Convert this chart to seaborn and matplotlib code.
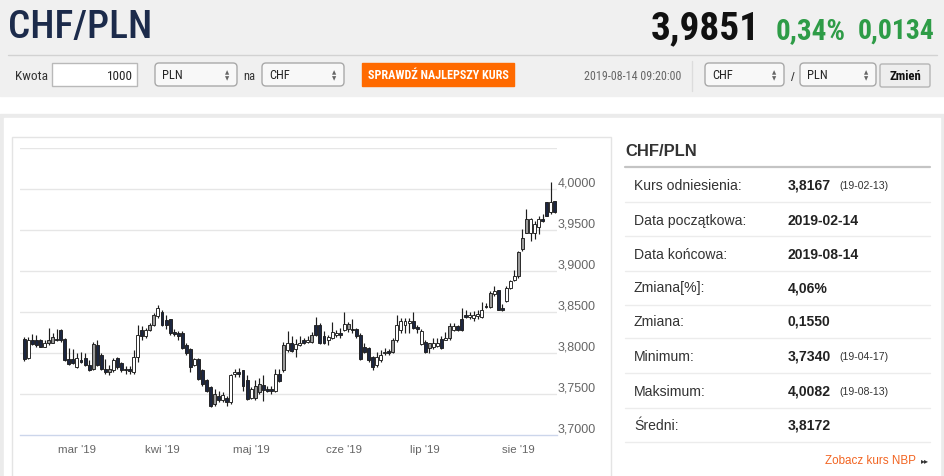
import numpy as np
import pandas as pd
import matplotlib
matplotlib.use("Agg")
import matplotlib.pyplot as plt
import matplotlib.transforms as mtransforms
from matplotlib.patches import Rectangle, FancyBboxPatch
from matplotlib import font_manager
import seaborn as sns

# ---------------- data ----------------
opens = [3.8169, 3.7934, 3.8161, 3.8153, 3.8153, 3.8079, 3.8120, 3.8128, 3.8174, 3.8277,
         3.8169, 3.7926, 3.7880, 3.7934, 3.7893, 3.7934, 3.7851, 3.7810, 3.8099, 3.7975,
         3.7810, 3.7769, 3.7789, 3.7831, 3.7880, 3.7806, 3.7806, 3.7769, 3.7955, 3.8285,
         3.8211, 3.8285, 3.8347, 3.8450, 3.8500, 3.8401, 3.8409, 3.8256, 3.8244, 3.8244,
         3.8099, 3.8045, 3.7851, 3.7921, 3.7789, 3.7665, 3.7591, 3.7376, 3.7479, 3.7426,
         3.7450, 3.7397, 3.7769, 3.7748, 3.7789, 3.7665, 3.7450, 3.7450, 3.7521, 3.7612,
         3.7562, 3.7558, 3.7541, 3.7748, 3.7789, 3.8037, 3.8120, 3.8045, 3.8128, 3.8128,
         3.8161, 3.8140, 3.8223, 3.8347, 3.8202, 3.8161, 3.8182, 3.8223, 3.8244, 3.8285,
         3.8293, 3.8293, 3.8293, 3.8223, 3.8079, 3.8058, 3.7955, 3.7851, 3.7913, 3.7996,
         3.8025, 3.8017, 3.8161, 3.8285, 3.8347, 3.8368, 3.8388, 3.8293, 3.8273, 3.8140,
         3.8058, 3.8079, 3.8087, 3.8174, 3.8161, 3.8182, 3.8326, 3.8285, 3.8285, 3.8467,
         3.8439, 3.8426, 3.8447, 3.8439, 3.8578, 3.8561, 3.8725, 3.8766, 3.8549, 3.8631,
         3.8794, 3.8896, 3.8945, 3.9264, 3.9468, 3.9632, 3.9468, 3.9542, 3.9640, 3.9673,
         3.9836, 3.9722]
highs = [3.8194, 3.8190, 3.8231, 3.8223, 3.8169, 3.8161, 3.8306, 3.8244, 3.8293, 3.8293,
         3.8182, 3.8058, 3.8045, 3.7996, 3.8017, 3.7996, 3.7913, 3.8140, 3.8153, 3.7996,
         3.7921, 3.7851, 3.7934, 3.7955, 3.7893, 3.7839, 3.7839, 3.8037, 3.8347, 3.8326,
         3.8306, 3.8368, 3.8492, 3.8583, 3.8525, 3.8459, 3.8417, 3.8293, 3.8264, 3.8264,
         3.8120, 3.8058, 3.7934, 3.7934, 3.7810, 3.7686, 3.7603, 3.7562, 3.7541, 3.7521,
         3.7479, 3.7748, 3.7810, 3.7822, 3.7798, 3.7727, 3.7583, 3.7665, 3.7698, 3.7727,
         3.7603, 3.7603, 3.7810, 3.7810, 3.8140, 3.8264, 3.8202, 3.8169, 3.8202, 3.8182,
         3.8202, 3.8252, 3.8442, 3.8368, 3.8264, 3.8223, 3.8376, 3.8285, 3.8306, 3.8500,
         3.8376, 3.8409, 3.8306, 3.8244, 3.8120, 3.8070, 3.7963, 3.8017, 3.8037, 3.8058,
         3.8045, 3.8182, 3.8459, 3.8430, 3.8430, 3.8430, 3.8500, 3.8347, 3.8293, 3.8161,
         3.8128, 3.8182, 3.8182, 3.8202, 3.8252, 3.8368, 3.8368, 3.8347, 3.8554, 3.8529,
         3.8496, 3.8508, 3.8529, 3.8619, 3.8610, 3.8753, 3.8815, 3.8774, 3.8600, 3.8815,
         3.8896, 3.9011, 3.9244, 3.9509, 3.9755, 3.9652, 3.9611, 3.9673, 3.9701, 3.9844,
         4.0082, 3.9857]
lows = [3.7905, 3.7926, 3.8099, 3.8079, 3.8070, 3.8070, 3.8099, 3.8120, 3.8149, 3.8140,
        3.7901, 3.7851, 3.7864, 3.7822, 3.7872, 3.7839, 3.7781, 3.7789, 3.7839, 3.7798,
        3.7748, 3.7727, 3.7769, 3.7810, 3.7769, 3.7748, 3.7748, 3.7748, 3.7893, 3.8161,
        3.8182, 3.8264, 3.8326, 3.8430, 3.8326, 3.8293, 3.8223, 3.8202, 3.8161, 3.8045,
        3.7975, 3.7769, 3.7839, 3.7665, 3.7603, 3.7521, 3.7340, 3.7355, 3.7397, 3.7397,
        3.7355, 3.7376, 3.7707, 3.7707, 3.7541, 3.7426, 3.7438, 3.7426, 3.7500, 3.7417,
        3.7521, 3.7500, 3.7521, 3.7645, 3.7769, 3.8017, 3.8017, 3.7955, 3.8087, 3.8112,
        3.8120, 3.8128, 3.8202, 3.8112, 3.8112, 3.8099, 3.8169, 3.8194, 3.8182, 3.8264,
        3.8252, 3.8244, 3.8182, 3.7913, 3.8004, 3.7893, 3.7789, 3.7831, 3.7893, 3.7975,
        3.7975, 3.7996, 3.8140, 3.8244, 3.8244, 3.8244, 3.8293, 3.8244, 3.8099, 3.7996,
        3.7996, 3.8045, 3.8070, 3.8045, 3.8153, 3.8161, 3.8264, 3.8264, 3.8264, 3.8426,
        3.8414, 3.8386, 3.8414, 3.8426, 3.8549, 3.8549, 3.8700, 3.8520, 3.8508, 3.8619,
        3.8782, 3.8876, 3.8917, 3.9244, 3.9460, 3.9366, 3.9395, 3.9448, 3.9599, 3.9665,
        3.9693, 3.9706]
closes = [3.7921, 3.8161, 3.8112, 3.8099, 3.8079, 3.8128, 3.8161, 3.8190, 3.8157, 3.8153,
          3.7913, 3.7864, 3.7921, 3.7831, 3.7913, 3.7851, 3.7789, 3.8112, 3.7851, 3.7810,
          3.7769, 3.7802, 3.7913, 3.7934, 3.7789, 3.7789, 3.7781, 3.7955, 3.8223, 3.8202,
          3.8285, 3.8347, 3.8459, 3.8554, 3.8347, 3.8347, 3.8244, 3.8231, 3.8202, 3.8058,
          3.7996, 3.7831, 3.7926, 3.7686, 3.7624, 3.7541, 3.7355, 3.7500, 3.7426, 3.7492,
          3.7397, 3.7727, 3.7748, 3.7769, 3.7603, 3.7438, 3.7562, 3.7603, 3.7616, 3.7550,
          3.7541, 3.7533, 3.7748, 3.7657, 3.8099, 3.8128, 3.8029, 3.8107, 3.8099, 3.8153,
          3.8140, 3.8223, 3.8347, 3.8120, 3.8128, 3.8194, 3.8252, 3.8244, 3.8215, 3.8355,
          3.8355, 3.8277, 3.8202, 3.7921, 3.8017, 3.7913, 3.7831, 3.7955, 3.7975, 3.8017,
          3.7996, 3.8161, 3.8347, 3.8388, 3.8388, 3.8388, 3.8306, 3.8318, 3.8112, 3.8017,
          3.8120, 3.8120, 3.8120, 3.8058, 3.8182, 3.8335, 3.8277, 3.8326, 3.8417, 3.8439,
          3.8467, 3.8467, 3.8480, 3.8520, 3.8561, 3.8733, 3.8753, 3.8529, 3.8520, 3.8794,
          3.8876, 3.8945, 3.9232, 3.9407, 3.9632, 3.9460, 3.9571, 3.9632, 3.9611, 3.9836,
          3.9714, 3.9849]
candle_kind = list("duddduggdd" "dddudddgdd" "dgudddduud" "uggudddddd"
                   "dduddddgdu" "duudddugg" "d" "ddudguduu" "d"
                   "ugddduuudu" "gdddddduuu" "dguuuuddud" "guuduguddd"
                   "uuuudgudduu" "uggguuuddu" "dg")
candle_kind = candle_kind[:len(opens)]
last_day = "2019-08-14"
month_labels = ["mar '19", "kwi '19", "maj '19", "cze '19", "lip '19", "sie '19"]
month_numbers = [3, 4, 5, 6, 7, 8]
y_values = [3.70, 3.75, 3.80, 3.85, 3.90, 3.95, 4.00]
y_labels = ["3,7000", "3,7500", "3,8000", "3,8500", "3,9000", "3,9500", "4,0000"]
grid_values = [3.75, 3.80, 3.85, 3.90, 3.95, 4.00, 4.05]

pair = "CHF/PLN"
price_now = "3,9851"
change_pct = "0,34%"
change_abs = "0,0134"
timestamp = "2019-08-14 09:20:00"
stat_labels = ["Kurs odniesienia:", "Data początkowa:", "Data końcowa:", "Zmiana[%]:",
               "Zmiana:", "Minimum:", "Maksimum:", "Średni:"]
stat_values = ["3,8167", "2019-02-14", "2019-08-14", "4,06%", "0,1550", "3,7340", "4,0082", "3,8172"]
stat_dates = ["(19-02-13)", "", "", "", "", "(19-04-17)", "(19-08-13)", ""]

# ---------------- style ----------------
sns.set_theme(style="white")
avail = {f.name for f in font_manager.fontManager.ttflist}
BASE = "Liberation Sans" if "Liberation Sans" in avail else "DejaVu Sans"
NARROW = None
for cand in ["Liberation Sans Narrow", "Roboto Condensed", "Open Sans Condensed",
             "Noto Sans Condensed", "DejaVu Sans Condensed"]:
    if cand in avail:
        NARROW = cand
        break
NARROW_STRETCH = "normal"
if NARROW is None:
    cond = [f for f in font_manager.fontManager.ttflist
            if f.name == "DejaVu Sans" and str(f.stretch) in ("condensed", "semi-condensed")]
    if cond:
        NARROW = "DejaVu Sans"
        NARROW_STRETCH = "condensed"
    else:
        NARROW = BASE
HAS_NARROW = NARROW != BASE
plt.rcParams['font.family'] = [BASE, 'DejaVu Sans']

W, H = 945, 477
fig = plt.figure(figsize=(W / 100, H / 100), dpi=100)
fig.patch.set_facecolor("white")

bg = fig.add_axes([0, 0, 1, 1], zorder=0)
bg.set_xlim(0, W)
bg.set_ylim(H, 0)
bg.axis("off")

def pt(px):
    return px * 0.72

renderer = fig.canvas.get_renderer()

def fit(t, w):
    bb = t.get_window_extent(renderer=renderer)
    if bb.width > 0:
        t.set_fontsize(t.get_fontsize() * w / bb.width)
    return t

def txt(x, y, s, size, w=None, **kw):
    kw.setdefault("va", "center")
    kw.setdefault("ha", "left")
    t = bg.text(x, y, s, fontsize=pt(size), **kw)
    if w is not None:
        fit(t, w)
    return t

nar = dict(family=[NARROW, BASE], fontstretch=NARROW_STRETCH)

# header band
bg.add_patch(Rectangle((0, 0), W, 97, color="#f0f0f0", zorder=0))
bg.plot([8, 937], [55.5, 55.5], color="#d2d2d2", lw=1, zorder=1)
txt(8, 28, pair, 40, w=144, color="#1c2b4b", fontweight="medium", **nar)
txt(651, 29, price_now, 36, w=109, color="#111111", fontweight="bold", **nar)
txt(776, 31, change_pct, 26, w=70, color="#2e9c47", fontweight="bold", **nar)
txt(858, 31, change_abs, 26, w=77, color="#2e9c47", fontweight="bold", **nar)

# controls row
txt(15, 76, "Kwota", 12, w=33, color="#333333", **nar)
bg.add_patch(Rectangle((52, 64), 85, 23, facecolor="white", edgecolor="#b9b9b9", lw=1, zorder=1))
txt(133, 76, "1000", 12.5, w=26, ha="right", color="#222222", **nar)

def select(x0, x1, label):
    bg.add_patch(FancyBboxPatch((x0, 64), x1 - x0, 23, boxstyle="round,pad=0,rounding_size=4",
                                facecolor="#f8f8f8", edgecolor="#a9a9a9", lw=1, zorder=1))
    txt(x0 + 7, 75.5, label, 12.5, color="#222222", **nar)
    bg.text(x1 - 10, 72.3, "▲", fontsize=4, color="#666666", ha="center", va="center",
            family=["DejaVu Sans"])
    bg.text(x1 - 10, 78.7, "▼", fontsize=4, color="#666666", ha="center", va="center",
            family=["DejaVu Sans"])

select(155, 237, "PLN")
txt(243, 76, "na", 12.5, color="#333333", **nar)
select(262, 344, "CHF")
bg.add_patch(Rectangle((362, 64), 152, 23, color="#ff6a00", zorder=1))
txt(438, 75.5, "SPRAWDŹ NAJLEPSZY KURS", 11, w=140, ha="center", color="white",
    fontweight="bold", **nar)
txt(584, 77, timestamp, 11, w=98, color="#666666", **nar)
bg.plot([692, 692], [62, 92], color="#dcdcdc", lw=1)
select(705, 784, "CHF")
txt(791, 78, "/", 13, color="#333333")
select(800, 876, "PLN")
bg.add_patch(FancyBboxPatch((880, 65), 50, 23, boxstyle="round,pad=0,rounding_size=2",
                            facecolor="#eeeeee", edgecolor="#b5b5b5", lw=1, zorder=1))
txt(905, 76.5, "Zmień", 12, w=32, ha="center", color="#111111", fontweight="bold", **nar)

# content frame
bg.add_patch(Rectangle((0, 115), W, H - 115, color="#ebebeb", zorder=0))
bg.add_patch(Rectangle((4, 119), 936, H - 119, color="white", zorder=0))
bg.add_patch(Rectangle((12, 138), 599, 360, facecolor="white", edgecolor="#e4e4e4", lw=1, zorder=0))

# right panel
txt(625, 152, pair, 16, w=72, color="#333333", fontweight="bold")
bg.plot([625, 930], [167.5, 167.5], color="#c4c4c4", lw=1.6)
row_y = [186, 220.7, 255, 288.5, 322, 356.7, 391.7, 426]
sep_y = [203.3, 237.3, 271.7, 305.7, 339.3, 374, 409.3, 443.3]
for yy in sep_y:
    bg.plot([625, 930], [yy, yy], color="#ececec", lw=1)
for lab, val, dt, yy in zip(stat_labels, stat_values, stat_dates, row_y):
    txt(634, yy, lab, 14, color="#333333")
    txt(788, yy, val, 14, color="#222222", fontweight="bold")
    if dt:
        txt(839, yy + 0.5, dt, 10.5, w=49, color="#333333")
txt(916, 461, "Zobacz kurs NBP", 12.5, w=91, ha="right", color="#f26522")
bg.text(925, 461, "▸▸", fontsize=pt(8), color="#333333", ha="center", va="center",
        family=["DejaVu Sans"])

# ---------------- chart ----------------
n = len(opens)
x = np.arange(n)
dates = pd.bdate_range(end=last_day, periods=n)
tick_pos = [int(np.argmax(dates.month == m)) for m in month_numbers]

px0, step = 24.3, 4.05
ax_left, ax_right, ax_top, ax_bot = 20, 557, 149, 436
ax = fig.add_axes([ax_left / W, (H - ax_bot) / H, (ax_right - ax_left) / W, (ax_bot - ax_top) / H],
                  zorder=2)
ax.patch.set_alpha(0)
ax.set_xlim((ax_left - px0) / step, (ax_right - px0) / step)
ax.set_ylim(3.70, 4.05)

for g in grid_values:
    ax.axhline(g, color="#e6e6e6", lw=1, zorder=0)

o = np.array(opens); c = np.array(closes)
hi = np.array(highs); lo = np.array(lows)
face_map = {"u": "#ffffff", "d": "#1c2640", "g": "#9b9b9b"}
faces = [face_map[k] for k in candle_kind]
ax.vlines(x, lo, hi, color="#1e1e1e", lw=0.85, zorder=2)
bottom = np.minimum(o, c)
height = np.maximum(np.abs(c - o), 0.0005)
ax.bar(x, height, bottom=bottom, width=0.72, color=faces, edgecolor="#1e1e1e",
       linewidth=0.65, zorder=3)

for side in ["top", "right", "left"]:
    ax.spines[side].set_visible(False)
ax.spines["bottom"].set_color("#ccd6eb")
ax.spines["bottom"].set_linewidth(1)
ax.set_yticks([])
ax.set_xticks(tick_pos)
ax.set_xticklabels(month_labels)
ax.tick_params(axis="x", length=pt(9), width=1, color="#ccd6eb", direction="out",
               pad=0.3, labelsize=pt(11.5), labelcolor="#666666")

lab_tr = mtransforms.blended_transform_factory(ax.transAxes, ax.transData) + \
    mtransforms.ScaledTranslation(1 / 100, 6.5 / 100, fig.dpi_scale_trans)
for v, s in zip(y_values, y_labels):
    ax.text(1.0, v, s, transform=lab_tr, ha="left", va="center", fontsize=pt(12.5),
            color="#666666")

fig.savefig("out.png", dpi=100)
